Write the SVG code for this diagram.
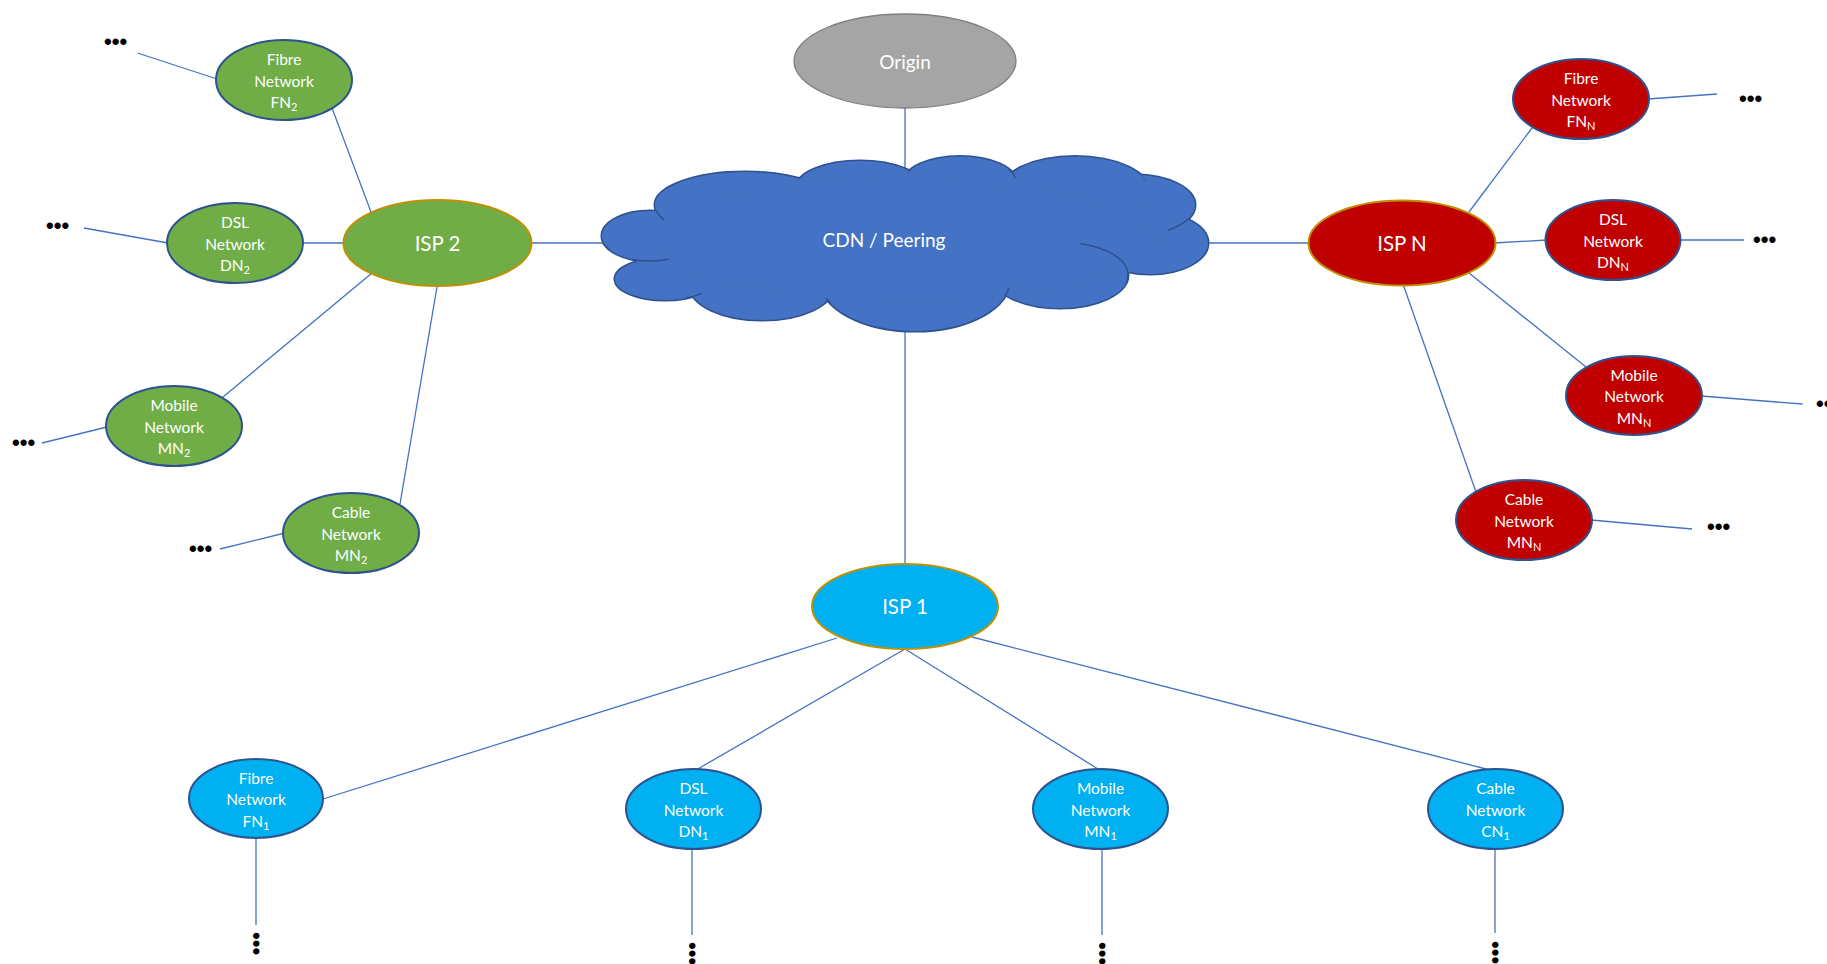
<svg xmlns="http://www.w3.org/2000/svg" width="1827" height="964" viewBox="0 0 1827 964">
<style>
.c{stroke:#4472C4;stroke-width:1.3;fill:none}
.t{font-family:Lato,"Open Sans",sans-serif;fill:#fff;text-anchor:middle}
.s{font-size:15.5px}
.b{font-size:20.5px}
.m{font-size:19px}
.sub{font-size:11px}
.d{font-family:"Liberation Sans",Arial,sans-serif;font-weight:bold;font-size:22px;fill:#000}
.g{fill:#70AD47;stroke:#2F528F;stroke-width:2}
.r{fill:#C00000;stroke:#2F528F;stroke-width:2}
.u{fill:#00B0F0;stroke:#2F528F;stroke-width:2}
.isp{stroke:#BF9000;stroke-width:2}
.cl{fill:#4472C4;stroke:#2F528F;stroke-width:3}
.cf{fill:#4472C4;stroke:none}
.ci{fill:none;stroke:#2F528F;stroke-width:1.5}
</style>
<defs>
<clipPath id="k1"><circle cx="659" cy="216" r="6"/></clipPath>
<clipPath id="k2"><circle cx="651" cy="262" r="18"/></clipPath>
<clipPath id="k3"><circle cx="694" cy="296" r="8"/></clipPath>
<clipPath id="k4"><circle cx="826" cy="303" r="5"/></clipPath>
<clipPath id="k5"><circle cx="913" cy="176" r="6"/></clipPath>
<clipPath id="k6"><circle cx="1014" cy="172" r="6"/></clipPath>
<clipPath id="k7"><circle cx="1141" cy="182" r="5"/></clipPath>
<clipPath id="k8"><circle cx="1178" cy="224" r="12"/></clipPath>
<clipPath id="k9"><circle cx="1104" cy="262" r="30"/></clipPath>
<clipPath id="k10"><circle cx="1006" cy="292" r="5"/></clipPath>
</defs>
<rect width="1827" height="964" fill="#fff"/>
<g id="connectors">
<line class="c" x1="905" y1="108" x2="905" y2="170"/>
<line class="c" x1="905" y1="325" x2="905" y2="566"/>
<line class="c" x1="529" y1="243" x2="606" y2="243"/>
<line class="c" x1="1204" y1="243" x2="1311" y2="243"/>
<line class="c" x1="371" y1="212" x2="332" y2="108"/>
<line class="c" x1="137.5" y1="53" x2="217" y2="79"/>
<line class="c" x1="84" y1="228" x2="168" y2="243"/>
<line class="c" x1="302" y1="243" x2="345" y2="243"/>
<line class="c" x1="372" y1="273" x2="223" y2="397"/>
<line class="c" x1="42" y1="443" x2="107" y2="427"/>
<line class="c" x1="437.5" y1="284" x2="400" y2="504"/>
<line class="c" x1="220" y1="549" x2="285" y2="533"/>
<line class="c" x1="1469" y1="212" x2="1532" y2="128"/>
<line class="c" x1="1494" y1="243" x2="1547" y2="240"/>
<line class="c" x1="1648" y1="99" x2="1717" y2="94"/>
<line class="c" x1="1680" y1="240" x2="1744" y2="240"/>
<line class="c" x1="1469" y1="273" x2="1586" y2="367"/>
<line class="c" x1="1701" y1="396" x2="1802.5" y2="404"/>
<line class="c" x1="1403" y1="284" x2="1476" y2="492"/>
<line class="c" x1="1591" y1="520" x2="1692" y2="529"/>
<line class="c" x1="837" y1="638" x2="323" y2="799"/>
<line class="c" x1="905" y1="649" x2="696" y2="770"/>
<line class="c" x1="905" y1="649" x2="1098" y2="769"/>
<line class="c" x1="972" y1="637" x2="1490" y2="770"/>
<line class="c" x1="256" y1="837" x2="256" y2="925"/>
<line class="c" x1="692" y1="848" x2="692" y2="935"/>
<line class="c" x1="1102" y1="848" x2="1102" y2="935"/>
<line class="c" x1="1495" y1="848" x2="1495" y2="933"/>
</g>
<g id="dots">
<text class="d" x="104" y="49">•••</text>
<text class="d" x="46" y="233">•••</text>
<text class="d" x="12" y="450">•••</text>
<text class="d" x="189" y="556">•••</text>
<text class="d" x="1739" y="106">•••</text>
<text class="d" x="1753" y="247">•••</text>
<text class="d" x="1816" y="411">•••</text>
<text class="d" x="1707" y="534">•••</text>
<text class="d" transform="translate(256,932) rotate(90)" x="0" y="7">•••</text>
<text class="d" transform="translate(692,942) rotate(90)" x="0" y="7">•••</text>
<text class="d" transform="translate(1102,942) rotate(90)" x="0" y="7">•••</text>
<text class="d" transform="translate(1495,941) rotate(90)" x="0" y="7">•••</text>
</g>
<g id="origin">
<ellipse cx="905" cy="61" rx="111" ry="47" fill="#A5A5A5" stroke="#7F7F7F" stroke-width="1.3"/>
<text class="t m" x="905" y="68.5">Origin</text>
</g>
<g id="cdn">
<g class="cl">
<ellipse cx="650" cy="236" rx="48" ry="25"/>
<ellipse cx="665" cy="279" rx="50" ry="21"/>
<ellipse cx="762" cy="286" rx="72" ry="34"/>
<ellipse cx="915" cy="280" rx="95" ry="51"/>
<ellipse cx="1060" cy="275" rx="68" ry="33"/>
<ellipse cx="1150" cy="243" rx="58" ry="31"/>
<ellipse cx="1135" cy="205" rx="60" ry="30"/>
<ellipse cx="1075" cy="192" rx="75" ry="35.5"/>
<ellipse cx="960" cy="182" rx="56" ry="25.5"/>
<ellipse cx="860" cy="188" rx="64" ry="27"/>
<ellipse cx="745" cy="205" rx="90" ry="33"/>
</g>
<g class="cf">
<ellipse cx="650" cy="236" rx="48" ry="25"/>
<ellipse cx="665" cy="279" rx="50" ry="21"/>
<ellipse cx="762" cy="286" rx="72" ry="34"/>
<ellipse cx="915" cy="280" rx="95" ry="51"/>
<ellipse cx="1060" cy="275" rx="68" ry="33"/>
<ellipse cx="1150" cy="243" rx="58" ry="31"/>
<ellipse cx="1135" cy="205" rx="60" ry="30"/>
<ellipse cx="1075" cy="192" rx="75" ry="35.5"/>
<ellipse cx="960" cy="182" rx="56" ry="25.5"/>
<ellipse cx="860" cy="188" rx="64" ry="27"/>
<ellipse cx="745" cy="205" rx="90" ry="33"/>
<ellipse cx="905" cy="240" rx="250" ry="60"/>
</g>
<g class="ci">
<ellipse cx="745" cy="205" rx="90" ry="33" clip-path="url(#k1)"/>
<ellipse cx="650" cy="236" rx="48" ry="25" clip-path="url(#k2)"/>
<ellipse cx="665" cy="279" rx="50" ry="21" clip-path="url(#k3)"/>
<ellipse cx="915" cy="280" rx="95" ry="51" clip-path="url(#k4)"/>
<ellipse cx="960" cy="182" rx="56" ry="25.5" clip-path="url(#k5)"/>
<ellipse cx="960" cy="182" rx="56" ry="25.5" clip-path="url(#k6)"/>
<ellipse cx="1075" cy="192" rx="75" ry="35.5" clip-path="url(#k7)"/>
<ellipse cx="1135" cy="205" rx="60" ry="30" clip-path="url(#k8)"/>
<ellipse cx="1060" cy="275" rx="68" ry="33" clip-path="url(#k9)"/>
<ellipse cx="915" cy="280" rx="95" ry="51" clip-path="url(#k10)"/>
</g>
<text class="t m" x="884" y="246.5">CDN / Peering</text>
</g>
<g id="isp2">
<ellipse class="g isp" cx="437.5" cy="243" rx="94" ry="43"/>
<text class="t b" x="437.5" y="250.5">ISP 2</text>
</g>
<g id="fn2">
<ellipse class="g" cx="284" cy="80" rx="68" ry="40"/>
<text class="t s" x="284" y="65">Fibre</text>
<text class="t s" x="284" y="86.5">Network</text>
<text class="t s" x="284" y="108">FN<tspan class="sub" dy="3">2</tspan></text>
</g>
<g id="dn2">
<ellipse class="g" cx="235" cy="243" rx="68" ry="40"/>
<text class="t s" x="235" y="228">DSL</text>
<text class="t s" x="235" y="249.5">Network</text>
<text class="t s" x="235" y="271">DN<tspan class="sub" dy="3">2</tspan></text>
</g>
<g id="mn2">
<ellipse class="g" cx="174" cy="426" rx="68" ry="40"/>
<text class="t s" x="174" y="411">Mobile</text>
<text class="t s" x="174" y="432.5">Network</text>
<text class="t s" x="174" y="454">MN<tspan class="sub" dy="3">2</tspan></text>
</g>
<g id="cn2">
<ellipse class="g" cx="351" cy="533" rx="68" ry="40"/>
<text class="t s" x="351" y="518">Cable</text>
<text class="t s" x="351" y="539.5">Network</text>
<text class="t s" x="351" y="561">MN<tspan class="sub" dy="3">2</tspan></text>
</g>
<g id="ispn">
<ellipse class="r isp" cx="1402" cy="243" rx="93.5" ry="42.5"/>
<text class="t b" x="1402" y="250.5">ISP N</text>
</g>
<g id="fnn">
<ellipse class="r" cx="1581" cy="99" rx="68" ry="40"/>
<text class="t s" x="1581" y="84">Fibre</text>
<text class="t s" x="1581" y="105.5">Network</text>
<text class="t s" x="1581" y="127">FN<tspan class="sub" dy="3">N</tspan></text>
</g>
<g id="dnn">
<ellipse class="r" cx="1613" cy="240" rx="67.5" ry="40"/>
<text class="t s" x="1613" y="225">DSL</text>
<text class="t s" x="1613" y="246.5">Network</text>
<text class="t s" x="1613" y="268">DN<tspan class="sub" dy="3">N</tspan></text>
</g>
<g id="mnn">
<ellipse class="r" cx="1634" cy="395.5" rx="68" ry="39.5"/>
<text class="t s" x="1634" y="380.5">Mobile</text>
<text class="t s" x="1634" y="402">Network</text>
<text class="t s" x="1634" y="423.5">MN<tspan class="sub" dy="3">N</tspan></text>
</g>
<g id="cnn">
<ellipse class="r" cx="1524" cy="520" rx="68" ry="40"/>
<text class="t s" x="1524" y="505">Cable</text>
<text class="t s" x="1524" y="526.5">Network</text>
<text class="t s" x="1524" y="548">MN<tspan class="sub" dy="3">N</tspan></text>
</g>
<g id="isp1">
<ellipse class="u isp" cx="905" cy="606.5" rx="93" ry="42.5"/>
<text class="t b" x="905" y="614">ISP 1</text>
</g>
<g id="fn1">
<ellipse class="u" cx="256" cy="798.5" rx="67" ry="39.5"/>
<text class="t s" x="256" y="783.5">Fibre</text>
<text class="t s" x="256" y="805">Network</text>
<text class="t s" x="256" y="826.5">FN<tspan class="sub" dy="3">1</tspan></text>
</g>
<g id="dn1">
<ellipse class="u" cx="693.5" cy="809" rx="67.5" ry="40"/>
<text class="t s" x="693.5" y="794">DSL</text>
<text class="t s" x="693.5" y="815.5">Network</text>
<text class="t s" x="693.5" y="837">DN<tspan class="sub" dy="3">1</tspan></text>
</g>
<g id="mn1">
<ellipse class="u" cx="1100.5" cy="809" rx="67.5" ry="40"/>
<text class="t s" x="1100.5" y="794">Mobile</text>
<text class="t s" x="1100.5" y="815.5">Network</text>
<text class="t s" x="1100.5" y="837">MN<tspan class="sub" dy="3">1</tspan></text>
</g>
<g id="cn1">
<ellipse class="u" cx="1495.5" cy="809" rx="67.5" ry="40"/>
<text class="t s" x="1495.5" y="794">Cable</text>
<text class="t s" x="1495.5" y="815.5">Network</text>
<text class="t s" x="1495.5" y="837">CN<tspan class="sub" dy="3">1</tspan></text>
</g>
</svg>
